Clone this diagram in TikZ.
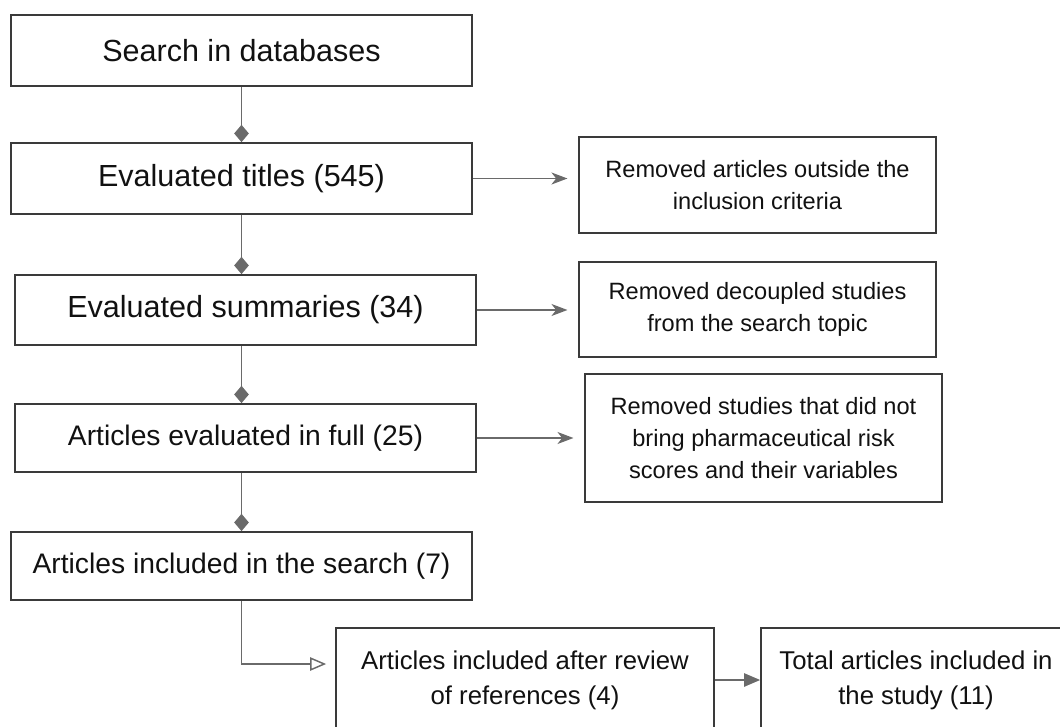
\documentclass[tikz,border=0pt]{standalone}
\usepackage{fontspec}
\setmainfont{Liberation Sans}
\usetikzlibrary{arrows.meta}
\definecolor{boxline}{HTML}{3A3A3A}
\definecolor{linkgray}{HTML}{6A6A6A}
\definecolor{inktext}{HTML}{111111}

\begin{document}
\begin{tikzpicture}[x=0.75pt, y=-0.75pt,
    stage/.style={draw=boxline, line width=1.3pt, text=inktext, minimum width=345.75pt, align=center},
    bigtext/.style={font=\fontsize{22.9}{27}\selectfont},
    midtext/.style={font=\fontsize{21.2}{25}\selectfont},
    droptext/.style={font=\fontsize{17.7}{24}\selectfont},
    endtext/.style={font=\fontsize{19.3}{26.2}\selectfont},
    dropbox/.style={draw=boxline, line width=1.3pt, text=inktext, minimum width=267.75pt, align=center, droptext},
    down/.style={draw=linkgray, line width=1.1pt, -{Diamond[length=13pt, width=11pt]}, linkgray},
    aside/.style={draw=linkgray, line width=1.1pt, -{Stealth[length=12pt, width=9pt, inset=3.5pt]}, linkgray, shorten >=8pt},
    ]
    \useasboundingbox (0,0) rectangle (1060,727);
    \clip (0,0) rectangle (1060,727);

    % main column
    \node[stage, bigtext, minimum height=53.25pt] (search) at (241.5,50.5) {Search in databases};
    \node[stage, bigtext, minimum height=53.25pt] (titles) at (241.5,178.5) {Evaluated titles (545)};
    \node[stage, bigtext, minimum height=52.5pt] (summaries) at (245.5,310) {Evaluated summaries (34)};
    \node[stage, midtext, minimum height=51pt] (fulltext) at (245.5,438) {Articles evaluated in full (25)};
    \node[stage, midtext, minimum height=51pt] (included) at (241.5,566) {Articles included in the search (7)};

    % removed articles
    \node[dropbox, minimum height=72pt] (dropcrit) at (757.5,185) {Removed articles outside the\\inclusion criteria};
    \node[dropbox, minimum height=71.25pt] (droptopic) at (757.5,309.5) {Removed decoupled studies\\from the search topic};
    \node[dropbox, minimum height=96pt] (dropscore) at (763.5,438) {Removed studies that did not\\bring pharmaceutical risk\\scores and their variables};

    % bottom row
    \node[stage, endtext, minimum width=283.5pt, minimum height=78pt] (references) at (525,680) {Articles included after review\\of references (4)};
    \node[stage, endtext, minimum width=232.5pt, minimum height=78pt] (total) at (916,680) {Total articles included in\\the study (11)};

    \draw[down] (search) -- (search.south |- titles.north);
    \draw[down] (titles) -- (titles.south |- summaries.north);
    \draw[down] (summaries.south -| titles.south) -- (titles.south |- fulltext.north);
    \draw[down] (fulltext.south -| titles.south) -- (titles.south |- included.north);

    \draw[aside] (titles.east) -- (titles.east -| dropcrit.west);
    \draw[aside] (summaries.east) -- (summaries.east -| droptopic.west);
    \draw[aside] (fulltext.east) -- (fulltext.east -| dropscore.west);

    \draw[draw=linkgray, line width=1.1pt, -{Triangle[open, length=12pt, width=10pt]}, shorten >=6.75pt]
      (included.south) |- ([yshift=12pt]references.west);
    \draw[draw=linkgray, line width=1.1pt, -{Triangle[length=12pt, width=10pt]}, linkgray]
      (references.east) -- (total.west);
\end{tikzpicture}
\end{document}
